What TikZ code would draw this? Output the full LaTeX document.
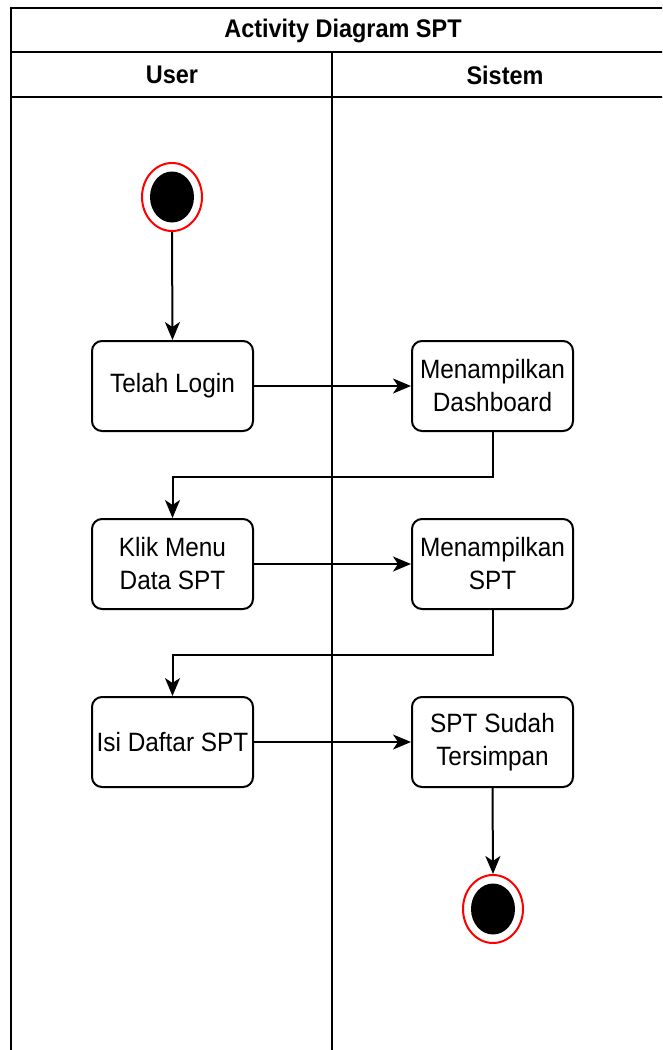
\documentclass[tikz,border=0pt]{standalone}
\usepackage{fontspec}
\setmainfont{Liberation Sans}[FakeStretch=0.92]
\usetikzlibrary{arrows.meta,shapes.geometric,positioning}
\tikzset{
  act/.style={draw=black, line width=2pt, rounded corners=10pt, fill=white,
    minimum width=161pt, minimum height=90pt, align=center, inner sep=2pt,
    font=\fontsize{26.5}{33}\selectfont},
  lanetxt/.style={font=\fontsize{25.5}{29}\selectfont\bfseries},
  flow/.style={line width=2pt, -{Stealth[length=18pt,width=15pt,inset=5pt]}},
  lane/.style={line width=2pt, draw=black},
  ring/.style={ellipse, draw=red, line width=2pt, minimum width=60pt, minimum height=68pt, inner sep=0pt, fill=white},
  dot/.style={ellipse, fill=black, minimum width=44pt, minimum height=51pt, inner sep=0pt}
}
\begin{document}
\begin{tikzpicture}[x=1pt,y=-1pt]
\useasboundingbox (0,0) rectangle (662,1050);
\clip (0,0) rectangle (662,1050);
\fill[white] (0,0) rectangle (662,1050);
% swimlanes
\draw[lane] (11,1070) -- (11,8) -- (690,8);
\draw[lane] (11,52) -- (690,52);
\draw[lane] (11,97) -- (690,97);
\draw[lane] (332,52) -- (332,1070);
\node[lanetxt] (title) at (343,31) {Activity Diagram SPT};
\node[lanetxt] (user) at (172,75) {User};
\node[lanetxt] (sistem) at (505,75) {Sistem};
% start
\node[ring] (start) at (172,197) {};
\node[dot] (startdot) at (172,197) {};
% activities
\node[act] (login) at (172.5,386) {Telah Login};
\node[act] (dash) at (492.5,386) {Menampilkan\\Dashboard};
\node[act] (klik) at (172.5,564) {Klik Menu\\Data SPT};
\node[act] (spt) at (492.5,564) {Menampilkan\\SPT};
\node[act] (isi) at (172.5,742) {Isi Daftar SPT};
\node[act] (simpan) at (492.5,742) {SPT Sudah\\Tersimpan};
% end
\node[ring] (end) at (493,909) {};
\node[dot] (enddot) at (493,909) {};
% flows
\draw[flow] (start.south) -- (login.north);
\draw[flow] (login.east) -- (dash.west);
\draw[flow] (dash.south) -- ++(0,45) -| (klik.north);
\draw[flow] (klik.east) -- (spt.west);
\draw[flow] (spt.south) -- ++(0,45) -| (isi.north);
\draw[flow] (isi.east) -- (simpan.west);
\draw[flow] (simpan.south) -- (end.north);
\end{tikzpicture}
\end{document}
